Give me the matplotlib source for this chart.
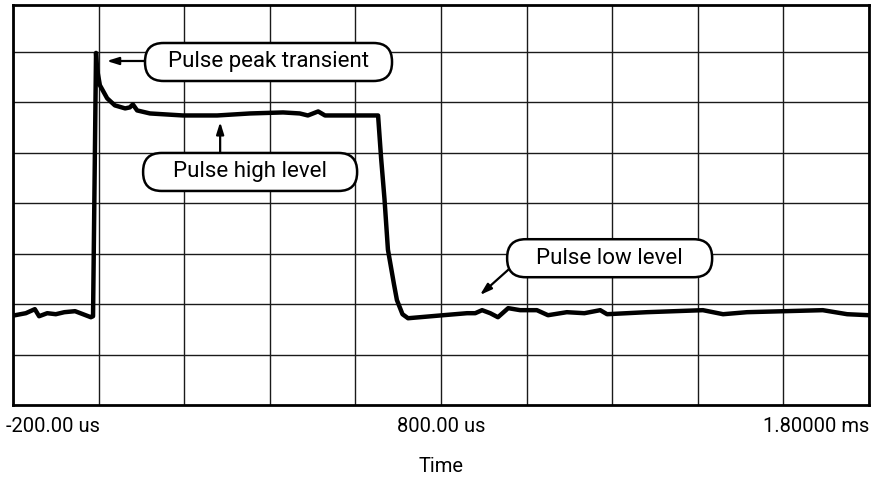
import matplotlib
matplotlib.use("Agg")
import matplotlib.pyplot as plt
import matplotlib.transforms as mtransforms
from matplotlib.patches import FancyBboxPatch

plt.rcParams['font.family'] = ['Roboto', 'DejaVu Sans']

# trace: time in us, level in divisions
time_us = [-195, -170, -149, -139, -120, -100, -80, -55, -18, -13,
           -6, -4, 3, 20, 38, 62, 73, 80, 90, 120, 197, 277, 354, 431,
           470, 489, 513, 529, 560, 653, 660, 668, 676, 690, 697, 710, 723,
           805, 861, 880, 896, 915, 933, 957, 985, 1024, 1050, 1094, 1135,
           1172, 1188, 1281, 1412, 1459, 1515, 1692, 1749, 1800]
level = [1.78, 1.82, 1.90, 1.76, 1.82, 1.80, 1.84, 1.86, 1.74, 1.76,
         6.98, 6.68, 6.34, 6.08, 5.94, 5.88, 5.90, 5.96, 5.84, 5.78, 5.74, 5.74, 5.78, 5.80,
         5.78, 5.74, 5.82, 5.74, 5.74, 5.74, 4.9, 4.08, 3.08, 2.4, 2.08, 1.8, 1.72,
         1.78, 1.82, 1.82, 1.88, 1.82, 1.74, 1.92, 1.88, 1.88, 1.78, 1.84, 1.82,
         1.88, 1.80, 1.84, 1.88, 1.80, 1.84, 1.88, 1.80, 1.78]

tick_pos = [-200, 800, 1800]
tick_labels = ['-200.00 us', '800.00 us', '1.80000 ms']

# callouts: text, box centre (us, div), box width (px), arrow start, arrow tip
callout_text = ['Pulse peak transient', 'Pulse high level', 'Pulse low level']
callout_xy = [(397, 6.80), (354, 4.62), (1194, 2.91)]
callout_w = [247, 214, 205]
arrow_from = [(108, 6.82), (284, 5.0), (957, 2.68)]
arrow_to = [(19, 6.82), (284, 5.61), (891, 2.18)]

fig = plt.figure(figsize=(8.73, 4.78), dpi=100)
ax = fig.add_axes([13 / 873, 1 - 405 / 478, 856 / 873, 400 / 478])

ax.plot(time_us, level, color='black', lw=3.2, solid_joinstyle='round', zorder=3)

ax.set_xlim(-200, 1800)
ax.set_ylim(0, 7.93)
ax.set_xticks(range(-200, 1801, 200))
ax.set_xticklabels([tick_labels[tick_pos.index(v)] if v in tick_pos else ''
                    for v in range(-200, 1801, 200)], fontsize=14.5)
ax.set_yticks(range(1, 8))
ax.set_yticklabels([])
ax.tick_params(length=0, pad=9)
ax.grid(True, color='#1a1a1a', lw=1.0)
for s in ax.spines.values():
    s.set_linewidth(2)
labs = ax.get_xticklabels()
labs[0].set_ha('left')
labs[0].set_transform(labs[0].get_transform() +
                      mtransforms.ScaledTranslation(-0.07, 0, fig.dpi_scale_trans))
labs[-1].set_ha('right')
ax.set_xlabel('Time', fontsize=14.5, labelpad=15)

arrow = dict(arrowstyle='-|>,head_length=0.7,head_width=0.22', color='black', lw=1.6,
             shrinkA=0, shrinkB=0)
for txt, (cx, cy), w, a0, a1 in zip(callout_text, callout_xy, callout_w, arrow_from, arrow_to):
    # box drawn in inches around a data anchor so the rounded ends stay circular
    tr = fig.dpi_scale_trans + mtransforms.ScaledTranslation(cx, cy, ax.transData)
    box = FancyBboxPatch((-w / 200, -0.19), w / 100, 0.38,
                         boxstyle='round,pad=0,rounding_size=0.185',
                         transform=tr, fc='white', ec='black', lw=1.8, zorder=5)
    ax.add_patch(box)
    ax.text(cx, cy, txt, fontsize=16, ha='center', va='center', zorder=6)
    ax.annotate('', xy=a1, xytext=a0, arrowprops=arrow, zorder=6)

fig.savefig('out.png', dpi=100)
